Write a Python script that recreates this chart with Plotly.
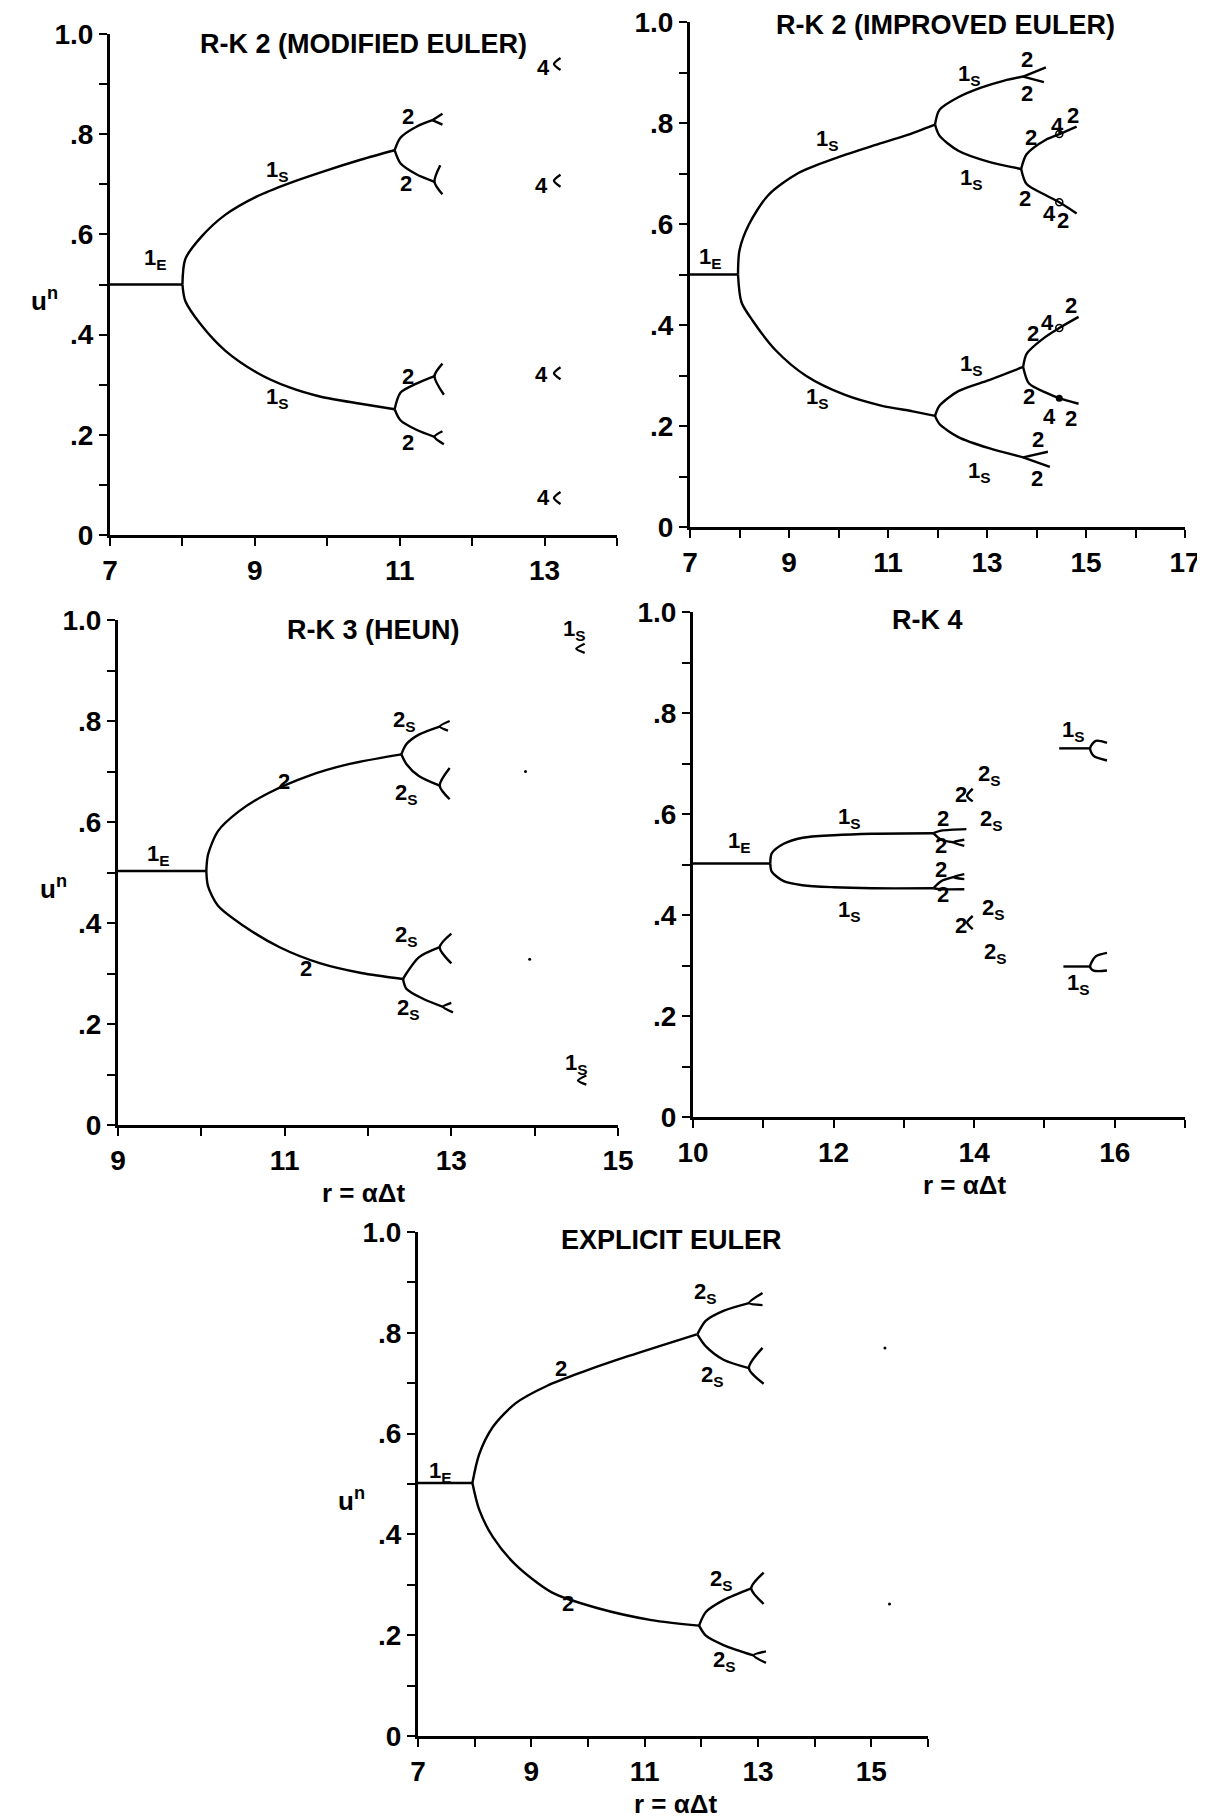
import plotly.graph_objects as go

FONT = "Liberation Sans"
W, H = 1205, 1818
PAGE_PAD = 8  # default body margin of the html page

# shared y ticks (un)
Y_TICKS = [0, 0.1, 0.2, 0.3, 0.4, 0.5, 0.6, 0.7, 0.8, 0.9, 1.0]
Y_TEXT = ["0", "", ".2", "", ".4", "", ".6", "", ".8", "", "1.0"]

# ---- R-K 2 (modified Euler) ----
RK2M_X_TICKS = [7, 8, 9, 10, 11, 12, 13, 14]
RK2M_X_TEXT = ["7", "", "9", "", "11", "", "13", ""]
RK2M_BRANCHES = [
    ([7, 8.0], [0.5, 0.5]),
    ([8.0, 8.04, 8.26, 8.59, 9.03, 9.47, 9.91, 10.46, 10.93], [0.5, 0.551, 0.595, 0.639, 0.676, 0.702, 0.724, 0.749, 0.768]),
    ([8.0, 8.04, 8.26, 8.59, 9.03, 9.47, 9.91, 10.46, 10.93], [0.5, 0.467, 0.419, 0.368, 0.324, 0.295, 0.276, 0.262, 0.251]),
    ([10.93, 11.01, 11.23, 11.45], [0.768, 0.793, 0.815, 0.828]),
    ([11.45, 11.59], [0.828, 0.841]),
    ([11.45, 11.59], [0.828, 0.819]),
    ([10.93, 11.01, 11.23, 11.48], [0.768, 0.742, 0.72, 0.705]),
    ([11.56, 11.48, 11.59], [0.738, 0.705, 0.68]),
    ([10.93, 11.01, 11.23, 11.48], [0.251, 0.284, 0.302, 0.317]),
    ([11.59, 11.48, 11.61], [0.342, 0.317, 0.28]),
    ([10.93, 11.01, 11.23, 11.48], [0.251, 0.229, 0.21, 0.196]),
    ([11.59, 11.48, 11.61], [0.207, 0.196, 0.181]),
    ([13.22, 13.13, 13.22], [0.952, 0.94, 0.928]),
    ([13.22, 13.13, 13.22], [0.719, 0.707, 0.695]),
    ([13.22, 13.13, 13.22], [0.335, 0.323, 0.311]),
    ([13.22, 13.13, 13.22], [0.086, 0.074, 0.062]),
]
RK2M_LABELS = [
    ("1<sub>E</sub>", 7.63, 0.55), ("1<sub>S</sub>", 9.31, 0.727), ("1<sub>S</sub>", 9.31, 0.273),
    ("2", 11.12, 0.835), ("2", 11.09, 0.702), ("2", 11.12, 0.317), ("2", 11.12, 0.185),
    ("4", 12.99, 0.933), ("4", 12.96, 0.698), ("4", 12.96, 0.32), ("4", 12.99, 0.075),
]

# ---- R-K 2 (improved Euler) ----
RK2I_X_TICKS = [7, 8, 9, 10, 11, 12, 13, 14, 15, 16, 17]
RK2I_X_TEXT = ["7", "", "9", "", "11", "", "13", "", "15", "", "17"]
RK2I_BRANCHES = [
    ([7, 7.97], [0.5, 0.5]),
    ([7.97, 8.0, 8.19, 8.58, 9.19, 9.96, 10.73, 11.35, 11.95], [0.5, 0.548, 0.599, 0.657, 0.701, 0.731, 0.756, 0.775, 0.797]),
    ([7.97, 8.04, 8.27, 8.73, 9.35, 10.12, 10.88, 11.5, 11.95], [0.5, 0.445, 0.408, 0.35, 0.299, 0.262, 0.24, 0.229, 0.22]),
    ([11.95, 12.04, 12.42, 12.88, 13.35, 13.73], [0.797, 0.826, 0.851, 0.87, 0.884, 0.892]),
    ([13.73, 14.19], [0.892, 0.91]),
    ([13.73, 14.15], [0.892, 0.881]),
    ([11.95, 12.04, 12.42, 13.04, 13.69], [0.797, 0.775, 0.745, 0.723, 0.709]),
    ([13.69, 13.8, 14.19, 14.46, 14.81], [0.709, 0.738, 0.767, 0.778, 0.793]),
    ([13.69, 13.8, 14.19, 14.46, 14.81], [0.709, 0.679, 0.657, 0.643, 0.621]),
    ([11.95, 12.04, 12.42, 13.04, 13.73], [0.22, 0.24, 0.269, 0.291, 0.317]),
    ([13.73, 13.8, 14.12, 14.46, 14.85], [0.317, 0.343, 0.372, 0.394, 0.416]),
    ([13.73, 13.85, 14.19, 14.46, 14.85], [0.317, 0.284, 0.266, 0.255, 0.244]),
    ([11.95, 12.04, 12.42, 13.04, 13.73], [0.22, 0.204, 0.178, 0.156, 0.138]),
    ([13.73, 14.23], [0.138, 0.149]),
    ([13.73, 14.27], [0.138, 0.119]),
]
RK2I_RINGS_R = [14.46, 14.46, 14.46]
RK2I_RINGS_U = [0.778, 0.643, 0.394]
RK2I_DOT_R = [14.46]
RK2I_DOT_U = [0.255]
RK2I_LABELS = [
    ("1<sub>E</sub>", 7.42, 0.533), ("1<sub>S</sub>", 9.77, 0.767), ("1<sub>S</sub>", 9.58, 0.255),
    ("1<sub>S</sub>", 12.65, 0.895), ("1<sub>S</sub>", 12.69, 0.69), ("1<sub>S</sub>", 12.69, 0.32),
    ("1<sub>S</sub>", 12.85, 0.108),
    ("2", 13.8, 0.925), ("2", 13.8, 0.859),
    ("2", 13.88, 0.771), ("4", 14.42, 0.796), ("2", 14.73, 0.815),
    ("2", 13.77, 0.65), ("4", 14.27, 0.621), ("2", 14.54, 0.606),
    ("2", 13.92, 0.383), ("4", 14.23, 0.405), ("2", 14.69, 0.438),
    ("2", 13.85, 0.258), ("4", 14.27, 0.218), ("2", 14.69, 0.214),
    ("2", 14.04, 0.174), ("2", 14.0, 0.097),
]

# ---- R-K 3 (Heun) ----
RK3_X_TICKS = [9, 10, 11, 12, 13, 14, 15]
RK3_X_TEXT = ["9", "", "11", "", "13", "", "15"]
RK3_BRANCHES = [
    ([9, 10.06], [0.503, 0.503]),
    ([10.06, 10.08, 10.2, 10.45, 10.79, 11.28, 11.78, 12.4], [0.503, 0.535, 0.582, 0.621, 0.656, 0.691, 0.715, 0.734]),
    ([10.06, 10.08, 10.2, 10.5, 10.94, 11.43, 11.92, 12.42], [0.503, 0.473, 0.434, 0.395, 0.352, 0.32, 0.301, 0.289]),
    ([12.4, 12.46, 12.61, 12.86], [0.734, 0.754, 0.773, 0.789]),
    ([12.98, 12.86, 12.96], [0.8, 0.789, 0.781]),
    ([12.4, 12.46, 12.61, 12.86], [0.734, 0.715, 0.691, 0.672]),
    ([12.98, 12.86, 12.98], [0.707, 0.672, 0.645]),
    ([12.42, 12.46, 12.61, 12.86], [0.289, 0.3, 0.332, 0.352]),
    ([13.0, 12.86, 13.0], [0.379, 0.352, 0.32]),
    ([12.42, 12.46, 12.66, 12.9], [0.289, 0.27, 0.25, 0.234]),
    ([13.0, 12.9, 13.02], [0.242, 0.234, 0.223]),
    ([14.6, 14.5, 14.6], [0.953, 0.943, 0.935]),
    ([14.62, 14.52, 14.62], [0.098, 0.088, 0.08]),
]
RK3_SPECK_R = [13.89, 13.94]
RK3_SPECK_U = [0.7, 0.328]
RK3_LABELS = [
    ("1<sub>E</sub>", 9.49, 0.535), ("2", 10.99, 0.68), ("2", 11.26, 0.309),
    ("2<sub>S</sub>", 12.44, 0.8), ("2<sub>S</sub>", 12.46, 0.656),
    ("2<sub>S</sub>", 12.46, 0.375), ("2<sub>S</sub>", 12.49, 0.23),
    ("1<sub>S</sub>", 14.48, 0.98), ("1<sub>S</sub>", 14.5, 0.121),
]

# ---- R-K 4 ----
RK4_X_TICKS = [10, 11, 12, 13, 14, 15, 16, 17]
RK4_X_TEXT = ["10", "", "12", "", "14", "", "16", ""]
RK4_BRANCHES = [
    ([10, 11.1], [0.502, 0.502]),
    ([11.1, 11.12, 11.29, 11.56, 12.0, 12.55, 13.42], [0.502, 0.522, 0.541, 0.553, 0.558, 0.561, 0.562]),
    ([11.1, 11.12, 11.29, 11.56, 12.0, 12.55, 13.42], [0.502, 0.486, 0.467, 0.459, 0.455, 0.453, 0.453]),
    ([13.42, 13.53, 13.89], [0.562, 0.567, 0.57]),
    ([13.42, 13.53, 13.7], [0.562, 0.549, 0.544]),
    ([13.86, 13.7, 13.86], [0.549, 0.544, 0.537]),
    ([13.42, 13.53, 13.7], [0.453, 0.467, 0.475]),
    ([13.86, 13.7, 13.86], [0.481, 0.475, 0.471]),
    ([13.42, 13.53, 13.86], [0.453, 0.451, 0.451]),
    ([13.98, 13.9, 13.98], [0.65, 0.636, 0.625]),
    ([13.98, 13.9, 13.98], [0.398, 0.385, 0.372]),
    ([15.21, 15.65], [0.73, 0.73]),
    ([15.89, 15.73, 15.65, 15.7, 15.89], [0.741, 0.745, 0.73, 0.715, 0.706]),
    ([15.27, 15.65], [0.298, 0.298]),
    ([15.89, 15.73, 15.65, 15.7, 15.89], [0.325, 0.318, 0.298, 0.29, 0.29]),
]
RK4_LABELS = [
    ("1<sub>E</sub>", 10.66, 0.545), ("1<sub>S</sub>", 12.22, 0.592), ("1<sub>S</sub>", 12.22, 0.408),
    ("2", 13.56, 0.592), ("2", 13.53, 0.537), ("2", 13.53, 0.49), ("2", 13.56, 0.44),
    ("2", 13.81, 0.639), ("2<sub>S</sub>", 14.22, 0.678), ("2<sub>S</sub>", 14.25, 0.588),
    ("2", 13.81, 0.38), ("2<sub>S</sub>", 14.27, 0.412), ("2<sub>S</sub>", 14.3, 0.325),
    ("1<sub>S</sub>", 15.42, 0.765), ("1<sub>S</sub>", 15.48, 0.263),
]

# ---- Explicit Euler ----
EE_X_TICKS = [7, 8, 9, 10, 11, 12, 13, 14, 15, 16]
EE_X_TEXT = ["7", "", "9", "", "11", "", "13", "", "15", ""]
EE_BRANCHES = [
    ([7, 7.96], [0.502, 0.502]),
    ([7.96, 8.08, 8.32, 8.72, 9.28, 9.92, 10.72, 11.92], [0.502, 0.559, 0.613, 0.66, 0.695, 0.723, 0.754, 0.797]),
    ([7.96, 8.08, 8.32, 8.72, 9.36, 10.16, 11.12, 11.96], [0.502, 0.449, 0.395, 0.34, 0.285, 0.254, 0.23, 0.219]),
    ([11.93, 12.08, 12.4, 12.84], [0.797, 0.824, 0.844, 0.859]),
    ([13.08, 12.84, 13.08], [0.879, 0.859, 0.855]),
    ([11.93, 12.08, 12.4, 12.84], [0.797, 0.773, 0.746, 0.73]),
    ([13.08, 12.84, 13.1], [0.77, 0.73, 0.699]),
    ([11.96, 12.08, 12.4, 12.88], [0.219, 0.246, 0.27, 0.293]),
    ([13.1, 12.88, 13.1], [0.324, 0.293, 0.262]),
    ([11.96, 12.08, 12.4, 12.92], [0.219, 0.199, 0.18, 0.16]),
    ([13.14, 12.92, 13.14], [0.168, 0.16, 0.145]),
]
EE_SPECK_R = [15.24, 15.32]
EE_SPECK_U = [0.77, 0.262]
EE_LABELS = [
    ("1<sub>E</sub>", 7.4, 0.523), ("2", 9.52, 0.73), ("2", 9.64, 0.262),
    ("2<sub>S</sub>", 12.08, 0.879), ("2<sub>S</sub>", 12.2, 0.715),
    ("2<sub>S</sub>", 12.36, 0.309), ("2<sub>S</sub>", 12.4, 0.148),
]


def xdom(left, right):
    # screen pixels -> paper fraction (page has an 8px body margin)
    return [(left - PAGE_PAD) / W, (right - PAGE_PAD) / W]


def ydom(bottom, top):
    return [1 - (bottom - PAGE_PAD) / H, 1 - (top - PAGE_PAD) / H]


# suffix, x domain, y domain, x range, ticks, data, title, title pos, x-label pos, show u^n
PANELS = [
    ("", xdom(110, 617), ydom(535, 34), [7, 14], RK2M_X_TICKS, RK2M_X_TEXT, RK2M_BRANCHES, RK2M_LABELS,
     "R-K 2 (MODIFIED EULER)", (10.5, 0.98), None, True),
    ("2", xdom(690, 1185), ydom(527, 22), [7, 17], RK2I_X_TICKS, RK2I_X_TEXT, RK2I_BRANCHES, RK2I_LABELS,
     "R-K 2 (IMPROVED EULER)", (12.17, 0.995), None, False),
    ("3", xdom(118, 618), ydom(1125, 620), [9, 15], RK3_X_TICKS, RK3_X_TEXT, RK3_BRANCHES, RK3_LABELS,
     "R-K 3 (HEUN)", (12.07, 0.98), 11.95, True),
    ("4", xdom(693, 1185), ydom(1117, 612), [10, 17], RK4_X_TICKS, RK4_X_TEXT, RK4_BRANCHES, RK4_LABELS,
     "R-K 4", (13.34, 0.985), 13.86, False),
    ("5", xdom(418, 928), ydom(1736, 1232), [7, 16], EE_X_TICKS, EE_X_TEXT, EE_BRANCHES, EE_LABELS,
     "EXPLICIT EULER", (11.48, 0.985), 11.54, True),
]

fig = go.Figure()
annotations = []
bold = dict(family=FONT, color="black", weight="bold")

for sfx, xd, yd, xrng, xt, xtt, branches, labels, title, tpos, xlab, ylab in PANELS:
    xa, ya = "x" + sfx, "y" + sfx
    for r, u in branches:
        fig.add_trace(go.Scatter(
            x=r, y=u, xaxis=xa, yaxis=ya, mode="lines",
            line=dict(color="black", width=2.4, shape="spline", smoothing=0.8),
            showlegend=False, hoverinfo="skip"))
    fig.update_layout({
        "xaxis" + sfx: dict(domain=xd, range=xrng, anchor=ya, tickmode="array", tickvals=xt, ticktext=xtt,
                            showline=True, linecolor="black", linewidth=3, ticks="outside", ticklen=8,
                            tickwidth=2, tickcolor="black", showgrid=False, zeroline=False, automargin=False,
                            ticklabeloverflow="allow", tickfont=dict(size=28, **bold)),
        "yaxis" + sfx: dict(domain=yd, range=[0, 1], anchor=xa, tickmode="array", tickvals=Y_TICKS,
                            ticktext=Y_TEXT, showline=True, linecolor="black", linewidth=3, ticks="outside",
                            ticklen=8, tickwidth=2, tickcolor="black", showgrid=False, zeroline=False,
                            automargin=False, ticklabeloverflow="allow", tickfont=dict(size=28, **bold)),
    })
    for txt, r, u in labels:
        annotations.append(dict(x=r, y=u, xref=xa, yref=ya, text=txt, showarrow=False,
                                font=dict(size=22, **bold)))
    annotations.append(dict(x=tpos[0], y=tpos[1], xref=xa, yref=ya, text=title, showarrow=False,
                            font=dict(size=27, **bold)))
    if xlab is not None:
        annotations.append(dict(x=xlab, y=-0.135, xref=xa, yref=ya + " domain", yanchor="middle",
                                text="r = \u03b1\u0394t", showarrow=False, font=dict(size=26, **bold)))
    if ylab:
        annotations.append(dict(x=-0.16, y=0.47, xref=xa + " domain", yref=ya, text="u<sup>n</sup>",
                                showarrow=False, font=dict(size=26, **bold)))

fig.add_trace(go.Scatter(x=RK2I_RINGS_R, y=RK2I_RINGS_U, xaxis="x2", yaxis="y2", mode="markers",
                         marker=dict(symbol="circle-open", size=7, color="black", line=dict(width=1.5)),
                         showlegend=False, hoverinfo="skip"))
fig.add_trace(go.Scatter(x=RK2I_DOT_R, y=RK2I_DOT_U, xaxis="x2", yaxis="y2", mode="markers",
                         marker=dict(size=7, color="black"), showlegend=False, hoverinfo="skip"))
fig.add_trace(go.Scatter(x=RK3_SPECK_R, y=RK3_SPECK_U, xaxis="x3", yaxis="y3", mode="markers",
                         marker=dict(size=3, color="black"), showlegend=False, hoverinfo="skip"))
fig.add_trace(go.Scatter(x=EE_SPECK_R, y=EE_SPECK_U, xaxis="x5", yaxis="y5", mode="markers",
                         marker=dict(size=3, color="black"), showlegend=False, hoverinfo="skip"))

fig.update_layout(
    width=W, height=H,
    margin=dict(l=0, r=0, t=0, b=0),
    paper_bgcolor="white", plot_bgcolor="white",
    annotations=annotations,
    showlegend=False,
)

fig.write_html("out.html")
